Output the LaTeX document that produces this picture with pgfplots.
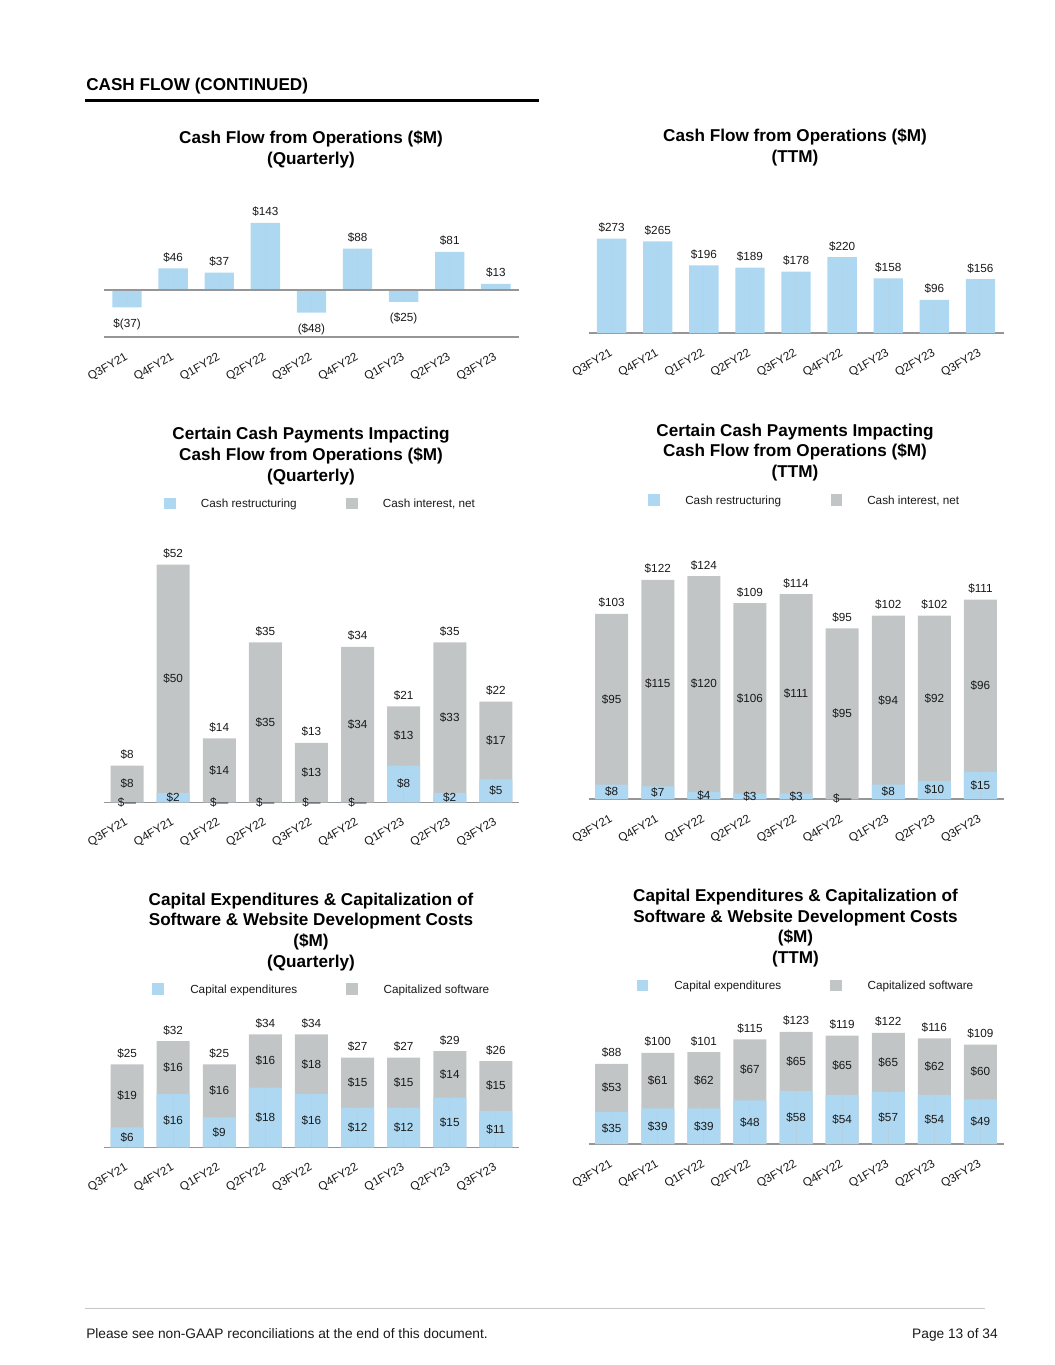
\documentclass[border=0pt]{standalone}
\usepackage{fontspec}
\setmainfont{Liberation Sans}
\usepackage{pgfplots}
\usepackage{pgfplotstable}
\pgfplotsset{compat=1.18}

\definecolor{cfblue}{RGB}{174,216,241}
\definecolor{cfgray}{RGB}{194,197,198}
\definecolor{axisgray}{RGB}{150,150,150}
\definecolor{txt}{RGB}{25,25,25}

\newcommand\lab{\fontsize{8.8}{10.5}\selectfont}
\newcommand\ttl{\fontsize{12.85}{15.6}\selectfont\bfseries}

% cash flow from operations, quarterly
\pgfplotstableread{
x y lab
0 -37 {\$(37)}
1 46 {\$46}
2 37 {\$37}
3 143 {\$143}
4 -48 {(\$48)}
5 88 {\$88}
6 -25 {(\$25)}
7 81 {\$81}
8 13 {\$13}
}\cfoq

% cash flow from operations, TTM
\pgfplotstableread{
x y lab
0 273 {\$273}
1 265 {\$265}
2 196 {\$196}
3 189 {\$189}
4 178 {\$178}
5 220 {\$220}
6 158 {\$158}
7 96 {\$96}
8 156 {\$156}
}\cfot

% cash payments, quarterly: restructuring, interest, total
\pgfplotstableread{
x a b t al bl tl
0 0 8 8 {\$—} {\$8} {\$8}
1 2 50 52 {\$2} {\$50} {\$52}
2 0 14 14 {\$—} {\$14} {\$14}
3 0 35 35 {\$—} {\$35} {\$35}
4 0 13 13 {\$—} {\$13} {\$13}
5 0 34 34 {\$—} {\$34} {\$34}
6 8 13 21 {\$8} {\$13} {\$21}
7 2 33 35 {\$2} {\$33} {\$35}
8 5 17 22 {\$5} {\$17} {\$22}
}\cpq

% cash payments, TTM
\pgfplotstableread{
x a b t al bl tl
0 8 95 103 {\$8} {\$95} {\$103}
1 7 115 122 {\$7} {\$115} {\$122}
2 4 120 124 {\$4} {\$120} {\$124}
3 3 106 109 {\$3} {\$106} {\$109}
4 3 111 114 {\$3} {\$111} {\$114}
5 0 95 95 {\$—} {\$95} {\$95}
6 8 94 102 {\$8} {\$94} {\$102}
7 10 92 102 {\$10} {\$92} {\$102}
8 15 96 111 {\$15} {\$96} {\$111}
}\cpt

% capex and capitalized software, quarterly
\pgfplotstableread{
x a b t al bl tl
0 6 19 25 {\$6} {\$19} {\$25}
1 16 16 32 {\$16} {\$16} {\$32}
2 9 16 25 {\$9} {\$16} {\$25}
3 18 16 34 {\$18} {\$16} {\$34}
4 16 18 34 {\$16} {\$18} {\$34}
5 12 15 27 {\$12} {\$15} {\$27}
6 12 15 27 {\$12} {\$15} {\$27}
7 15 14 29 {\$15} {\$14} {\$29}
8 11 15 26 {\$11} {\$15} {\$26}
}\cxq

% capex and capitalized software, TTM
\pgfplotstableread{
x a b t al bl tl
0 35 53 88 {\$35} {\$53} {\$88}
1 39 61 100 {\$39} {\$61} {\$100}
2 39 62 101 {\$39} {\$62} {\$101}
3 48 67 115 {\$48} {\$67} {\$115}
4 58 65 123 {\$58} {\$65} {\$123}
5 54 65 119 {\$54} {\$65} {\$119}
6 57 65 122 {\$57} {\$65} {\$122}
7 54 62 116 {\$54} {\$62} {\$116}
8 49 60 109 {\$49} {\$60} {\$109}
}\cxt

\pgfplotsset{
  cfbase/.style={
    scale only axis, anchor=south west, clip=false,
    x=34.575pt, xmin=-0.5, xmax=8.5, enlargelimits=false,
    axis x line*=bottom, axis y line=none,
    x axis line style={draw=axisgray, line width=0.9pt, -},
    xtick={0,...,8},
    xticklabels={Q3FY21,Q4FY21,Q1FY22,Q2FY22,Q3FY22,Q4FY22,Q1FY23,Q2FY23,Q3FY23},
    major tick length=0pt,
    xticklabel style={yshift=-11pt, xshift=-2pt, rotate=30, anchor=north east,
      inner sep=0pt, font=\lab, text=txt},
    every node near coord/.append style={font=\lab, text=txt},
    ybar, bar shift=0pt,
  },
  % invisible carrier for a row of value labels
  labrow/.style={fill=cfgray, draw=none, bar width=0pt, bar shift=0pt,
    nodes near coords, point meta=explicit symbolic},
  toplab/.style={labrow, every node near coord/.append style={anchor=south, outer ysep=1.3pt}},
  botlab/.style={labrow, every node near coord/.append style={anchor=north, outer ysep=5pt}},
  midlab/.style={labrow, every node near coord/.append style={anchor=center}},
}

\begin{document}
\begin{tikzpicture}
\useasboundingbox (0,0) rectangle (791.25pt,-1023.75pt);

% page header
\node[anchor=base west, inner sep=0pt, font=\ttl] at (64.5pt,-67.5pt) {CASH FLOW (CONTINUED)};
\fill (63.75pt,-74.25pt) rectangle (404.25pt,-76.5pt);

% titles
\node[align=center, font=\ttl] at (233.25pt,-112.2pt) {Cash Flow from Operations (\$M)\\(Quarterly)};
\node[align=center, font=\ttl] at (596.25pt,-110.3pt) {Cash Flow from Operations (\$M)\\(TTM)};
\node[align=center, font=\ttl] at (233.25pt,-342.2pt) {Certain Cash Payments Impacting\\Cash Flow from Operations (\$M)\\(Quarterly)};
\node[align=center, font=\ttl] at (596.25pt,-339.4pt) {Certain Cash Payments Impacting\\Cash Flow from Operations (\$M)\\(TTM)};
\node[align=center, font=\ttl] at (233.25pt,-698.9pt) {Capital Expenditures \& Capitalization of\\Software \& Website Development Costs\\(\$M)\\(Quarterly)};
\node[align=center, font=\ttl] at (596.6pt,-696.1pt) {Capital Expenditures \& Capitalization of\\Software \& Website Development Costs\\(\$M)\\(TTM)};

% legends
\fill[cfblue] (127.5pt,-377.6pt) +(-4.4pt,-4.4pt) rectangle +(4.4pt,4.4pt);
\node[anchor=base west, inner sep=0pt, font=\lab, text=txt] at (150.5pt,-380.8pt) {Cash restructuring};
\fill[cfgray] (263.9pt,-377.6pt) +(-4.4pt,-4.4pt) rectangle +(4.4pt,4.4pt);
\node[anchor=base west, inner sep=0pt, font=\lab, text=txt] at (287pt,-380.8pt) {Cash interest, net};

\fill[cfblue] (490.5pt,-375pt) +(-4.4pt,-4.4pt) rectangle +(4.4pt,4.4pt);
\node[anchor=base west, inner sep=0pt, font=\lab, text=txt] at (513.75pt,-378.15pt) {Cash restructuring};
\fill[cfgray] (627.4pt,-375pt) +(-4.4pt,-4.4pt) rectangle +(4.4pt,4.4pt);
\node[anchor=base west, inner sep=0pt, font=\lab, text=txt] at (650.25pt,-378.15pt) {Cash interest, net};

\fill[cfblue] (118.7pt,-741.75pt) +(-4.4pt,-4.4pt) rectangle +(4.4pt,4.4pt);
\node[anchor=base west, inner sep=0pt, font=\lab, text=txt] at (142.5pt,-744.9pt) {Capital expenditures};
\fill[cfgray] (264.1pt,-741.75pt) +(-4.4pt,-4.4pt) rectangle +(4.4pt,4.4pt);
\node[anchor=base west, inner sep=0pt, font=\lab, text=txt] at (287.5pt,-744.9pt) {Capitalized software};

\fill[cfblue] (481.9pt,-739.1pt) +(-4.4pt,-4.4pt) rectangle +(4.4pt,4.4pt);
\node[anchor=base west, inner sep=0pt, font=\lab, text=txt] at (505.5pt,-742.3pt) {Capital expenditures};
\fill[cfgray] (627.2pt,-739.1pt) +(-4.4pt,-4.4pt) rectangle +(4.4pt,4.4pt);
\node[anchor=base west, inner sep=0pt, font=\lab, text=txt] at (650.5pt,-742.3pt) {Capitalized software};

% 1: quarterly cash flow from operations
\begin{axis}[cfbase, at={(78pt,-252.75pt)}, y=0.3525pt, ymin=-100, ymax=150]
\addplot[fill=cfblue, draw=none, bar width=22pt] table[x=x, y=y] {\cfoq};
\addplot[sharp plot, draw=axisgray, line width=0.9pt] coordinates {(-0.5,0) (8.5,0)};
\addplot[toplab, y filter/.expression={y<0 ? nan : y}] table[x=x, y=y, meta=lab] {\cfoq};
\addplot[botlab, y filter/.expression={y<0 ? y : nan}] table[x=x, y=y, meta=lab] {\cfoq};
\end{axis}

% 2: TTM cash flow from operations
\begin{axis}[cfbase, at={(441.45pt,-249.75pt)}, y=0.259pt, ymin=0, ymax=280]
\addplot[fill=cfblue, draw=none, bar width=22pt] table[x=x, y=y] {\cfot};
\addplot[toplab] table[x=x, y=y, meta=lab] {\cfot};
\end{axis}

% 3: quarterly cash payments (gray total behind, blue part in front)
\begin{axis}[cfbase, at={(78pt,-601.7pt)}, y=3.4275pt, ymin=0, ymax=55]
\addplot[fill=cfgray, draw=none, bar width=24.75pt] table[x=x, y=t] {\cpq};
\addplot[fill=cfblue, draw=none, bar width=24.75pt] table[x=x, y=a] {\cpq};
\addplot[toplab] table[x=x, y=t, meta=tl] {\cpq};
\addplot[midlab] table[x=x, y expr=0.5*\thisrow{a}, meta=al] {\cpq};
\addplot[midlab] table[x=x, y expr=\thisrow{a}+0.5*\thisrow{b}, meta=bl] {\cpq};
\end{axis}

% 4: TTM cash payments
\begin{axis}[cfbase, at={(441.45pt,-599.25pt)}, y=1.34775pt, ymin=0, ymax=130]
\addplot[fill=cfgray, draw=none, bar width=24.75pt] table[x=x, y=t] {\cpt};
\addplot[fill=cfblue, draw=none, bar width=24.75pt] table[x=x, y=a] {\cpt};
\addplot[toplab] table[x=x, y=t, meta=tl] {\cpt};
\addplot[midlab] table[x=x, y expr=0.5*\thisrow{a}, meta=al] {\cpt};
\addplot[midlab] table[x=x, y expr=\thisrow{a}+0.5*\thisrow{b}, meta=bl] {\cpt};
\end{axis}

% 5: quarterly capex
\begin{axis}[cfbase, at={(78pt,-860.5pt)}, y=2.49pt, ymin=0, ymax=36]
\addplot[fill=cfgray, draw=none, bar width=24.75pt] table[x=x, y=t] {\cxq};
\addplot[fill=cfblue, draw=none, bar width=24.75pt] table[x=x, y=a] {\cxq};
\addplot[toplab] table[x=x, y=t, meta=tl] {\cxq};
\addplot[midlab] table[x=x, y expr=0.5*\thisrow{a}, meta=al] {\cxq};
\addplot[midlab] table[x=x, y expr=\thisrow{a}+0.5*\thisrow{b}, meta=bl] {\cxq};
\end{axis}

% 6: TTM capex
\begin{axis}[cfbase, at={(441.45pt,-858pt)}, y=0.68325pt, ymin=0, ymax=130]
\addplot[fill=cfgray, draw=none, bar width=24.75pt] table[x=x, y=t] {\cxt};
\addplot[fill=cfblue, draw=none, bar width=24.75pt] table[x=x, y=a] {\cxt};
\addplot[toplab] table[x=x, y=t, meta=tl] {\cxt};
\addplot[midlab] table[x=x, y expr=0.5*\thisrow{a}, meta=al] {\cxt};
\addplot[midlab] table[x=x, y expr=\thisrow{a}+0.5*\thisrow{b}, meta=bl] {\cxt};
\end{axis}

% page footer
\draw[gray!45, line width=0.75pt] (63.75pt,-981pt) -- (738.75pt,-981pt);
\node[anchor=base west, inner sep=0pt, font=\fontsize{10.3}{12}\selectfont, text=txt] at (64.5pt,-1003.5pt) {Please see non-GAAP reconciliations at the end of this document.};
\node[anchor=base east, inner sep=0pt, font=\fontsize{10.3}{12}\selectfont, text=txt] at (748.5pt,-1003.5pt) {Page 13 of 34};
\end{tikzpicture}
\end{document}
